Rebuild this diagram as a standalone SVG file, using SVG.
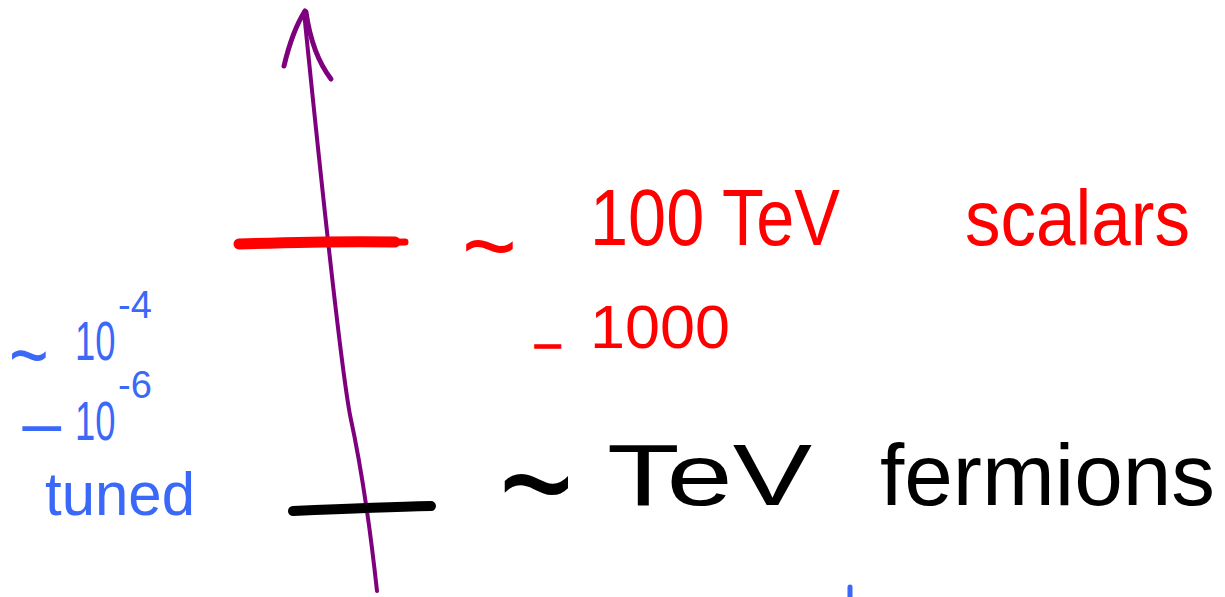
<svg xmlns="http://www.w3.org/2000/svg" width="1225" height="597" viewBox="0 0 1225 597">
<style>
.red{fill:#FF0000}
.blk{fill:#000000}
.blu{fill:#3A68F8}
text{font-family:"Liberation Sans","DejaVu Sans",sans-serif}
.ax{stroke:#7F007F;fill:none;stroke-linecap:round;stroke-linejoin:round}
</style>
<rect width="1225" height="597" fill="#FFFFFF"/>
<g id="connectors">
<path class="ax" stroke-width="4" d="M377,591 C372,545 362,470 350,415 C340,360 320,170 304,12"/>
<path class="ax" stroke-width="5" d="M305,11 C296,25 289,45 284,66"/>
<path class="ax" stroke-width="5" d="M306,12 C310,40 318,62 331,79"/>
</g>
<g id="tick-scalars">
<path d="M239,244 C300,242 350,241 395,242" stroke="#FF0000" stroke-width="11" stroke-linecap="round" fill="none"/>
<path d="M360,243 L405,242" stroke="#FF0000" stroke-width="7" stroke-linecap="round"/>
</g>
<g id="tick-fermions">
<path d="M293,511 C340,509 390,507 431,506" stroke="#000000" stroke-width="10" stroke-linecap="round" fill="none"/>
</g>
<g id="label-scalars">
<text class="red" font-size="94" transform="translate(462,281) scale(1,1.1)">~</text>
<text class="red" x="590" y="245" font-size="80" textLength="250" lengthAdjust="spacingAndGlyphs">100 TeV</text>
<text class="red" x="965" y="245" font-size="78" textLength="225" lengthAdjust="spacingAndGlyphs">scalars</text>
<text class="red" font-size="62"><tspan x="535" y="358" font-size="46" stroke="#FF0000" stroke-width="1.5">–</tspan><tspan x="590" y="348" textLength="140" lengthAdjust="spacingAndGlyphs">1000</tspan></text>
</g>
<g id="label-fermions">
<text class="blk" font-size="128" transform="translate(499,540) scale(1,1.3)">~</text>
<text class="blk" x="607" y="505" font-size="88" textLength="205" lengthAdjust="spacingAndGlyphs">TeV</text>
<text class="blk" x="880" y="505" font-size="88" textLength="335" lengthAdjust="spacingAndGlyphs">fermions</text>
</g>
<g id="label-tuning">
<text class="blu" font-size="68" transform="translate(9,384) scale(1,1.25)">~</text>
<text class="blu" font-size="56" transform="translate(75,360) scale(0.65,1)">10</text>
<text class="blu" x="118" y="318" font-size="38">-4</text>
<text class="blu" font-size="40" stroke="#3A68F8" stroke-width="2" transform="translate(24,439) scale(1.6,1)">–</text>
<text class="blu" font-size="56" transform="translate(75,440) scale(0.65,1)">10</text>
<text class="blu" x="118" y="398" font-size="38">-6</text>
<text class="blu" x="45" y="515" font-size="62" textLength="150" lengthAdjust="spacingAndGlyphs">tuned</text>
</g>
<g id="mark">
<path d="M850,587 L850,597" stroke="#3A68F8" stroke-width="5" stroke-linecap="round"/>
</g>
</svg>
